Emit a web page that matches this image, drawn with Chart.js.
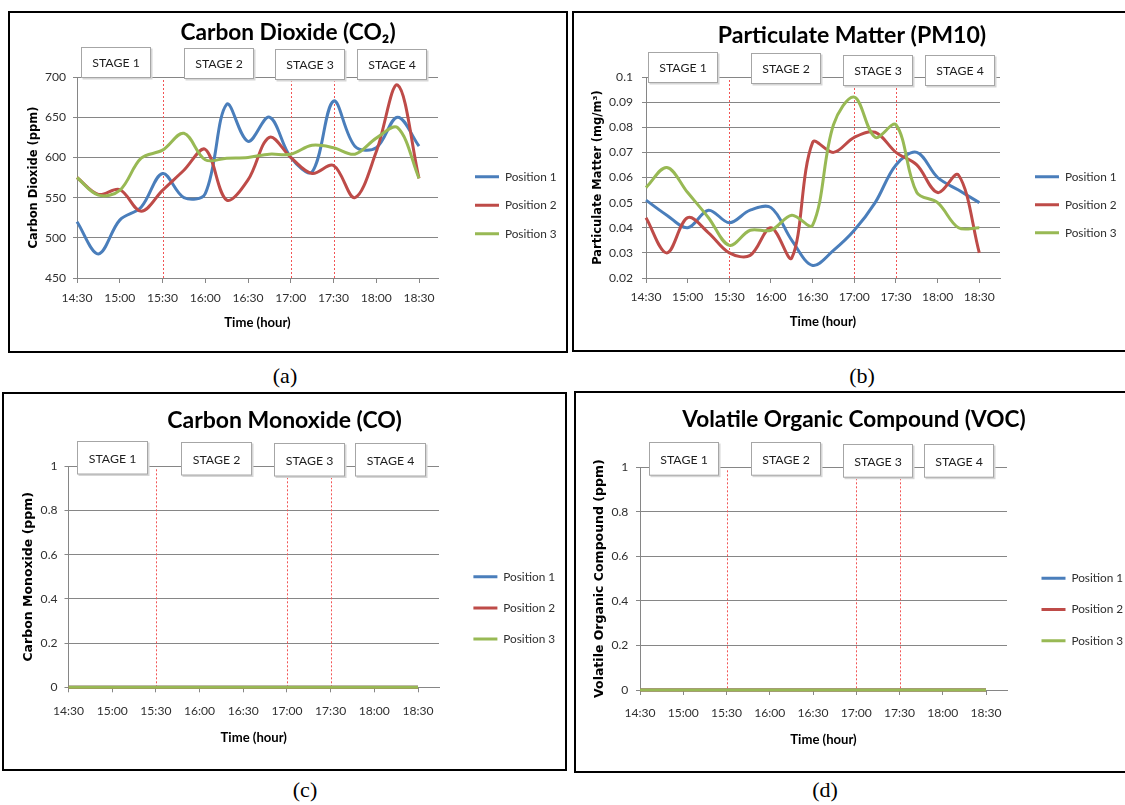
<!DOCTYPE html>
<html>
<head>
<meta charset="utf-8">
<script src="https://cdn.jsdelivr.net/npm/chart.js@4.4.1/dist/chart.umd.min.js"></script>
<style>
html, body { margin: 0; padding: 0; background: #fff; }
body { width: 1125px; height: 805px; position: relative; overflow: hidden; }
.panel { position: absolute; border: 2px solid #000; box-sizing: border-box; background: #fff; }
.panel canvas { position: absolute; left: 0; top: 0; }
.cap { position: absolute; font-family: "Liberation Serif", "Times New Roman", serif; font-size: 22px; color: #000; transform: translate(-50%, -50%); }
</style>
</head>
<body>
<div class="panel" id="pa"><canvas id="ca"></canvas></div>
<div class="panel" id="pb"><canvas id="cb"></canvas></div>
<div class="panel" id="pc"><canvas id="cc"></canvas></div>
<div class="panel" id="pd"><canvas id="cd"></canvas></div>
<div class="cap" style="left:285px;top:376px">(a)</div>
<div class="cap" style="left:862px;top:376px">(b)</div>
<div class="cap" style="left:305px;top:790px">(c)</div>
<div class="cap" style="left:825px;top:790px">(d)</div>
<script>
// ---- data ----
var TIMES = ['14:30', '14:45', '15:00', '15:15', '15:30', '15:45', '16:00', '16:15', '16:30',
             '16:45', '17:00', '17:15', '17:30', '17:45', '18:00', '18:15', '18:30'];
var SERIES_NAMES = ['Position 1', 'Position 2', 'Position 3'];
var STAGE_LABELS = ['STAGE 1', 'STAGE 2', 'STAGE 3', 'STAGE 4'];
var STAGE_BREAKS = ['15:30', '17:00', '17:30'];

var CO2_P1 = [520, 480, 522, 538, 580, 550, 555, 666, 620, 650, 600, 582, 670, 614, 612, 650, 614];
var CO2_P2 = [575, 554, 560, 533, 559, 584, 610, 547, 572, 625, 600, 580, 590, 550, 607, 690, 574];
var CO2_P3 = [575, 553, 559, 599, 609, 630, 597, 599, 600, 604, 604, 615, 612, 604, 624, 637, 574];

var PM_P1 = [0.051, 0.045, 0.040, 0.047, 0.042, 0.047, 0.048, 0.035, 0.025, 0.031, 0.039, 0.050, 0.065, 0.070, 0.060, 0.055, 0.050];
var PM_P2 = [0.044, 0.030, 0.044, 0.038, 0.030, 0.029, 0.040, 0.028, 0.074, 0.070, 0.076, 0.078, 0.070, 0.065, 0.054, 0.061, 0.030];
var PM_P3 = [0.056, 0.064, 0.054, 0.044, 0.033, 0.039, 0.039, 0.045, 0.041, 0.081, 0.092, 0.076, 0.081, 0.054, 0.050, 0.040, 0.040];

var CO_P1 = [0, 0, 0, 0, 0, 0, 0, 0, 0, 0, 0, 0, 0, 0, 0, 0, 0];
var CO_P2 = [0, 0, 0, 0, 0, 0, 0, 0, 0, 0, 0, 0, 0, 0, 0, 0, 0];
var CO_P3 = [0, 0, 0, 0, 0, 0, 0, 0, 0, 0, 0, 0, 0, 0, 0, 0, 0];

var VOC_P1 = [0, 0, 0, 0, 0, 0, 0, 0, 0, 0, 0, 0, 0, 0, 0, 0, 0];
var VOC_P2 = [0, 0, 0, 0, 0, 0, 0, 0, 0, 0, 0, 0, 0, 0, 0, 0, 0];
var VOC_P3 = [0, 0, 0, 0, 0, 0, 0, 0, 0, 0, 0, 0, 0, 0, 0, 0, 0];

// ---- style ----
var COLORS = ['#4a7ebb', '#be4b48', '#98b954'];
var AXIS = '#868686';
var TXT = '#303030';
var SANS = 'Lato, "Liberation Sans", sans-serif';
var WIDE = '"DejaVu Sans", Verdana, sans-serif';

// font size that gives a text about the width it has in the figure
// (grow > 1 where the figure text looks stretched upward)
function fitSize(text, weight, width, grow) {
    var c = document.createElement('canvas').getContext('2d');
    c.font = weight + ' 100px ' + SANS;
    return Math.round(1000 * (grow || 1) * width / c.measureText(text).width) / 10;
}
var TICK_SIZE = fitSize('14:30', 'normal', 29.3, 1.06);
var LEGEND_SIZE = fitSize('Position 1', 'normal', 51.9);
var STAGE_SIZE = fitSize('STAGE 1', 'normal', 45, 1.06);
var XTITLE_SIZE = fitSize('Time (hour)', 'bold', 62.6, 1.06);

// page coordinates of each panel (measured on the figure)
var LAYOUT = {
    a: { left: 8, top: 11, w: 560, h: 342, plotL: 77, plot1830: 419, plotR: 438, plotT: 77, plotB: 278,
         titleY: 32.7, titleW: 203, yTitleX: 34.3, yTitleSize: 11.5, yTickGap: 11,
         xLabelY: 298.5, xTitleY: 322.3, legX: 475, legY: 176.7, legGap: 28.5,
         stageCenters: [26.7, 99, 163.5, 220.4], stageTops: [-30, -29, -28, -28], stageW: 69, stageH: 30 },
    b: { left: 572, top: 11, w: 560, h: 341, plotL: 646, plot1830: 979.3, plotR: 1000, plotT: 77, plotB: 278,
         titleY: 35.7, titleW: 253, yTitleX: 598.5, yTitleSize: 11.5, yTickGap: 13,
         xLabelY: 297.3, xTitleY: 321.7, legX: 1035, legY: 176.7, legGap: 28,
         stageCenters: [26.5, 100.4, 167, 225.8], stageTops: [-25, -24, -22, -22], stageW: 69, stageH: 30 },
    c: { left: 2, top: 392, w: 565, h: 379, plotL: 68.5, plot1830: 418, plotR: 439, plotT: 466.3, plotB: 687.3,
         titleY: 420.7, titleW: 221, yTitleX: 29.1, yTitleSize: 12.5, yTickGap: 11,
         xLabelY: 710.7, xTitleY: 737.3, legX: 473.4, legY: 576.7, legGap: 31.2,
         stageCenters: [30.2, 101.2, 164.9, 220.6], stageTops: [-25, -24, -23, -23], stageW: 70, stageH: 32.5 },
    d: { left: 574, top: 391, w: 560, h: 382, plotL: 640, plot1830: 986, plotR: 1007, plotT: 467.3, plotB: 690,
         titleY: 419.3, titleW: 324, yTitleX: 599.6, yTitleSize: 12.5, yTickGap: 11.7,
         xLabelY: 712.7, xTitleY: 740, legX: 1041.5, legY: 578.3, legGap: 31.2,
         stageCenters: [30.1, 101, 165, 220.8], stageTops: [-25.5, -25, -23.3, -23.3], stageW: 69, stageH: 32.7 }
};

function toMin(t) {
    var p = t.split(':');
    return (parseInt(p[0], 10) - 14) * 60 + parseInt(p[1], 10) - 30;
}
function toLabel(m) {
    var h = 14 + Math.floor((m + 30) / 60), mm = (m + 30) % 60;
    return h + ':' + (mm < 10 ? '0' : '') + mm;
}

// stage boxes and red dotted stage limits
var stagePlugin = {
    id: 'stages',
    beforeDatasetsDraw: function (chart) {
        var ctx = chart.ctx, xs = chart.scales.x, a = chart.chartArea;
        ctx.save();
        ctx.strokeStyle = '#f25555';
        ctx.lineWidth = 1;
        ctx.setLineDash([2, 2]);
        STAGE_BREAKS.forEach(function (t) {
            var px = Math.round(xs.getPixelForValue(toMin(t))) + 0.5;
            ctx.beginPath();
            ctx.moveTo(px, a.top + 3);
            ctx.lineTo(px, a.bottom);
            ctx.stroke();
        });
        ctx.restore();
    },
    afterDatasetsDraw: function (chart, args, o) {
        var ctx = chart.ctx, xs = chart.scales.x, top = chart.chartArea.top;
        ctx.save();
        STAGE_LABELS.forEach(function (txt, i) {
            var cx = xs.getPixelForValue(o.centers[i]);
            var bx = Math.round(cx - o.w / 2) + 0.5, by = Math.round(top + o.tops[i]) + 0.5;
            ctx.fillStyle = '#d6d6d6';
            ctx.fillRect(bx + 1, by + 1, o.w + 1, o.h + 1);
            ctx.fillStyle = '#ffffff';
            ctx.fillRect(bx, by, o.w, o.h);
            ctx.strokeStyle = '#a6a6a6';
            ctx.lineWidth = 1;
            ctx.strokeRect(bx, by, o.w, o.h);
            ctx.fillStyle = '#1e1e1e';
            ctx.font = STAGE_SIZE + 'px ' + SANS;
            ctx.textAlign = 'center';
            ctx.textBaseline = 'middle';
            ctx.fillText(txt, bx + o.w / 2, by + o.h / 2 + 1);
        });
        ctx.restore();
    }
};

function buildChart(key, spec) {
    var P = LAYOUT[key];
    var panel = document.getElementById('p' + key);
    panel.style.left = P.left + 'px';
    panel.style.top = P.top + 'px';
    panel.style.width = P.w + 'px';
    panel.style.height = P.h + 'px';

    var ox = P.left + 2, oy = P.top + 2, W = P.w - 4, H = P.h - 4;
    var L = P.plotL - ox, R = P.plotR - ox, T = P.plotT - oy, B = P.plotB - oy;
    var xMax = 240 * (P.plotR - P.plotL) / (P.plot1830 - P.plotL);
    var titleSize = fitSize(spec.title, 'bold', P.titleW, 1.06);
    var titleLH = titleSize * 1.2;
    var titleTop = P.titleY - oy - titleLH / 2;
    var legItem = LEGEND_SIZE, legPad = P.legGap - legItem;
    var innerW = (P.legX - ox) - legPad - R;
    var legTitleH = (P.legY - oy) - legItem / 2 - T - legPad;

    var canvas = document.getElementById('c' + key);
    canvas.width = W;
    canvas.height = H;

    var datasets = spec.series.map(function (vals, i) {
        return {
            label: SERIES_NAMES[i],
            data: vals.map(function (v, j) { return { x: toMin(TIMES[j]), y: v }; }),
            borderColor: COLORS[i],
            backgroundColor: COLORS[i],
            borderWidth: 3,
            pointRadius: 0,
            tension: 0.35,
            clip: false,
            order: 2 - i
        };
    });

    return new Chart(canvas.getContext('2d'), {
        type: 'line',
        data: { datasets: datasets },
        plugins: [stagePlugin],
        options: {
            responsive: false,
            animation: false,
            devicePixelRatio: 1,
            events: [],
            layout: { padding: 0 },
            plugins: {
                tooltip: { enabled: false },
                title: {
                    display: true,
                    text: spec.title,
                    color: '#000',
                    font: { family: SANS, size: titleSize, weight: 'bold', lineHeight: 1.2 },
                    padding: { top: titleTop, bottom: T - titleTop - titleLH }
                },
                legend: {
                    position: 'right',
                    align: 'start',
                    fullSize: false,
                    maxWidth: W - R - innerW,
                    title: { display: true, text: '', font: { size: 1 }, padding: { top: legTitleH - 1.2, bottom: 0 } },
                    labels: {
                        boxWidth: 24,
                        boxHeight: 3,
                        padding: legPad,
                        color: TXT,
                        font: { family: SANS, size: legItem },
                        sort: function (a, b) { return a.datasetIndex - b.datasetIndex; },
                        generateLabels: function (chart) {
                            return Chart.defaults.plugins.legend.labels.generateLabels(chart).map(function (l) {
                                l.lineWidth = 0;
                                return l;
                            });
                        }
                    }
                },
                stages: { centers: P.stageCenters, tops: P.stageTops, w: P.stageW, h: P.stageH }
            },
            scales: {
                x: {
                    type: 'linear',
                    min: 0,
                    max: xMax,
                    border: { color: AXIS },
                    grid: { drawOnChartArea: false, drawTicks: true, tickLength: 5, color: AXIS },
                    ticks: {
                        stepSize: 30,
                        includeBounds: false,
                        autoSkip: false,
                        maxRotation: 0,
                        padding: (P.xLabelY - oy) - B - 5 - TICK_SIZE * 1.2 / 2,
                        color: TXT,
                        font: { family: SANS, size: TICK_SIZE },
                        callback: function (v) { return toLabel(v); }
                    },
                    title: {
                        display: true,
                        text: 'Time (hour)',
                        color: '#000',
                        font: { family: SANS, size: XTITLE_SIZE, weight: 'bold' },
                        padding: { top: 0, bottom: H - (P.xTitleY - oy) - XTITLE_SIZE * 1.2 / 2 }
                    },
                    afterFit: function (s) { s.height = H - B; }
                },
                y: {
                    min: spec.yMin,
                    max: spec.yMax,
                    border: { color: AXIS },
                    grid: { color: AXIS, tickLength: 4 },
                    ticks: {
                        stepSize: spec.yStep,
                        padding: P.yTickGap - 4,
                        color: TXT,
                        font: { family: SANS, size: TICK_SIZE },
                        callback: function (v) { return String(+v.toFixed(2)); }
                    },
                    title: {
                        display: true,
                        text: spec.yTitle,
                        color: '#000',
                        font: { family: WIDE, size: P.yTitleSize, weight: 'bold' },
                        padding: { top: (P.yTitleX - ox) - P.yTitleSize * 1.2 / 2, bottom: 0 }
                    },
                    afterFit: function (s) { s.width = L; }
                },
                // spacer between plot area and legend
                yIn: {
                    type: 'linear', position: 'right', weight: 0,
                    grid: { display: false }, border: { display: false }, ticks: { display: false },
                    afterFit: function (s) { s.width = innerW; }
                },
                // spacer right of the legend, takes what is left
                yOut: {
                    type: 'linear', position: 'right', weight: 5000,
                    grid: { display: false }, border: { display: false }, ticks: { display: false },
                    afterFit: function (s) {
                        var lw = s.chart.legend ? s.chart.legend.width : 0;
                        s.width = Math.max(0, W - R - innerW - lw);
                    }
                }
            }
        }
    });
}

buildChart('a', { title: 'Carbon Dioxide (CO\u2082)', yTitle: 'Carbon Dioxide (ppm)',
    yMin: 450, yMax: 700, yStep: 50, series: [CO2_P1, CO2_P2, CO2_P3] });
buildChart('b', { title: 'Particulate Matter (PM10)', yTitle: 'Particulate Matter (mg/m\u00b3)',
    yMin: 0.02, yMax: 0.1, yStep: 0.01, series: [PM_P1, PM_P2, PM_P3] });
buildChart('c', { title: 'Carbon Monoxide (CO)', yTitle: 'Carbon Monoxide (ppm)',
    yMin: 0, yMax: 1, yStep: 0.2, series: [CO_P1, CO_P2, CO_P3] });
buildChart('d', { title: 'Volatile Organic Compound (VOC)', yTitle: 'Volatile Organic Compound (ppm)',
    yMin: 0, yMax: 1, yStep: 0.2, series: [VOC_P1, VOC_P2, VOC_P3] });
</script>
</body>
</html>
